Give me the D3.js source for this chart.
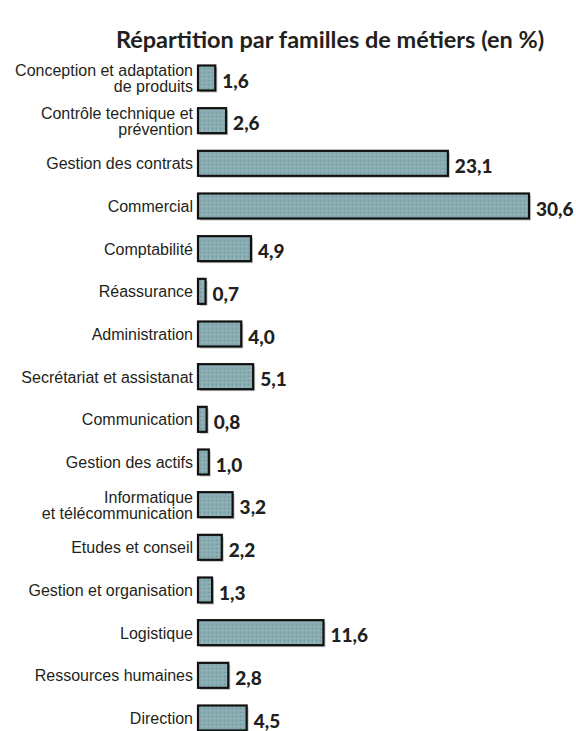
<!DOCTYPE html>
<html><head><meta charset="utf-8">
<script src="https://cdn.jsdelivr.net/npm/d3@7"></script>
<style>body{margin:0;background:#fff}svg{display:block}</style>
</head><body>
<script>
const categories = [
  ["Conception et adaptation","de  produits"],
  ["Contrôle technique et","prévention"],
  ["Gestion des contrats"],
  ["Commercial"],
  ["Comptabilité"],
  ["Réassurance"],
  ["Administration"],
  ["Secrétariat et assistanat"],
  ["Communication"],
  ["Gestion des actifs"],
  ["Informatique","et télécommunication"],
  ["Etudes et conseil"],
  ["Gestion et organisation"],
  ["Logistique"],
  ["Ressources humaines"],
  ["Direction"]
];
const values = [1.6,2.6,23.1,30.6,4.9,0.7,4.0,5.1,0.8,1.0,3.2,2.2,1.3,11.6,2.8,4.5];
const valueLabels = ["1,6","2,6","23,1","30,6","4,9","0,7","4,0","5,1","0,8","1,0","3,2","2,2","1,3","11,6","2,8","4,5"];
const title = "Répartition par familles de métiers (en %)";

const W=576,H=731;
const svg=d3.select("body").append("svg").attr("width",W).attr("height",H);
const defs=svg.append("defs");
const pat=defs.append("pattern").attr("id","dots").attr("patternUnits","userSpaceOnUse").attr("width",4).attr("height",4);
pat.append("rect").attr("width",4).attr("height",4).attr("fill","#88acb1");
pat.append("rect").attr("x",0).attr("y",0).attr("width",1).attr("height",1).attr("fill","#6f959c");
pat.append("rect").attr("x",2).attr("y",2).attr("width",1).attr("height",1).attr("fill","#a2c0c3");

const idx=d3.range(categories.length);
const y=d3.scalePoint().domain(idx).range([78,718]);
const x=d3.scaleLinear().domain([0,30.6]).range([198,529]);
const bh=25;

svg.append("text").attr("x",330).attr("y",48).attr("text-anchor","middle")
  .attr("font-family","Lato, 'Open Sans', sans-serif").attr("font-weight","bold")
  .attr("font-size",23.5).attr("fill","#231f20").text(title);

const g=svg.append("g");
g.selectAll("rect.sh").data(idx).join("rect").attr("class","sh")
  .attr("x",x(0)+2).attr("y",i=>y(i)-bh/2+2)
  .attr("width",i=>x(values[i])-x(0)).attr("height",bh)
  .attr("fill","#c4c4c4");
g.selectAll("rect.bar").data(idx).join("rect").attr("class","bar")
  .attr("x",x(0)).attr("y",i=>y(i)-bh/2)
  .attr("width",i=>x(values[i])-x(0)).attr("height",bh)
  .attr("fill","url(#dots)").attr("stroke","#111").attr("stroke-width",2.2);

g.selectAll("text.val").data(idx).join("text").attr("class","val")
  .attr("x",i=>x(values[i])+7).attr("y",i=>y(i)+9.5)
  .attr("font-family","Lato, 'DejaVu Sans', sans-serif").attr("font-weight","900")
  .attr("font-size",19).attr("fill","#231f20").text(i=>valueLabels[i]);

const lab=g.selectAll("text.lab").data(idx).join("text").attr("class","lab")
  .attr("text-anchor","end").attr("font-family","'Liberation Sans', Arial, sans-serif")
  .attr("font-size",16).attr("fill","#231f20");
lab.each(function(i){
  const lines=categories[i];
  const t=d3.select(this);
  const lh=16;
  const y0=y(i)+6-(lines.length-1)*lh/2;
  lines.forEach((l,k)=>t.append("tspan").attr("x",193).attr("y",y0+k*lh).text(l));
});
</script>
</body></html>
